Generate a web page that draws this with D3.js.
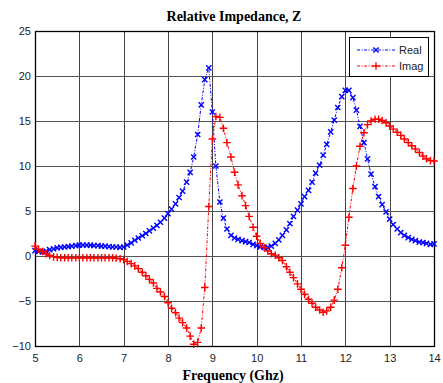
<!DOCTYPE html>
<html>
<head>
<meta charset="utf-8">
<script src="https://cdn.jsdelivr.net/npm/d3@7"></script>
<style>
  body { margin: 0; background: #fff; }
</style>
</head>
<body>
<svg id="chart" width="443" height="383"></svg>
<script>
// sample frequencies (GHz), 1/12 GHz apart
const freq = [
  5.00, 5.08, 5.17, 5.25, 5.33, 5.42, 5.50, 5.58, 5.67, 5.75, 5.83, 5.92,
  6.00, 6.08, 6.17, 6.25, 6.33, 6.42, 6.50, 6.58, 6.67, 6.75, 6.83, 6.92,
  7.00, 7.08, 7.17, 7.25, 7.33, 7.42, 7.50, 7.58, 7.67, 7.75, 7.83, 7.92,
  8.00, 8.08, 8.17, 8.25, 8.33, 8.42, 8.50, 8.58, 8.67, 8.75, 8.83, 8.92,
  9.00, 9.08, 9.17, 9.25, 9.33, 9.42, 9.50, 9.58, 9.67, 9.75, 9.83, 9.92,
  10.00, 10.08, 10.17, 10.25, 10.33, 10.42, 10.50, 10.58, 10.67, 10.75, 10.83, 10.92,
  11.00, 11.08, 11.17, 11.25, 11.33, 11.42, 11.50, 11.58, 11.67, 11.75, 11.83, 11.92,
  12.00, 12.08, 12.17, 12.25, 12.33, 12.42, 12.50, 12.58, 12.67, 12.75, 12.83, 12.92,
  13.00, 13.08, 13.17, 13.25, 13.33, 13.42, 13.50, 13.58, 13.67, 13.75, 13.83, 13.92,
  14.00
];

const realZ = [
  0.6, 0.5, 0.45, 0.55, 0.7, 0.8, 0.9, 0.95, 1.0, 1.05, 1.1, 1.15,
  1.2, 1.2, 1.2, 1.2, 1.15, 1.15, 1.1, 1.1, 1.05, 1.0, 1.0, 0.95,
  1.0, 1.2, 1.45, 1.75, 2.0, 2.25, 2.5, 2.8, 3.1, 3.4, 3.75, 4.2,
  4.7, 5.2, 5.8, 6.5, 7.2, 8.2, 9.3, 11.0, 13.5, 16.8, 19.6, 20.9,
  16.0, 10.0, 6.0, 4.2, 3.0, 2.3, 2.0, 1.85, 1.7, 1.6, 1.5, 1.3,
  1.15, 1.0, 0.95, 0.95, 1.1, 1.4, 1.8, 2.3, 2.9, 3.6, 4.4, 5.1,
  5.8, 6.6, 7.3, 8.2, 9.2, 10.1, 11.2, 12.4, 13.8, 15.1, 16.5, 17.7,
  18.4, 18.4, 17.6, 16.2, 14.4, 12.6, 10.8, 9.1, 7.7, 6.6, 5.7, 4.9,
  4.1, 3.5, 3.0, 2.6, 2.3, 2.05, 1.85, 1.7, 1.55, 1.5, 1.4, 1.3,
  1.35
];

const imagZ = [
  1.1, 0.75, 0.5, 0.25, 0.05, -0.1, -0.15, -0.2, -0.2, -0.2, -0.2, -0.2,
  -0.2, -0.2, -0.2, -0.2, -0.2, -0.2, -0.2, -0.2, -0.2, -0.2, -0.25, -0.3,
  -0.4, -0.6, -0.85, -1.1, -1.4, -1.8, -2.2, -2.6, -3.0, -3.6, -4.0, -4.5,
  -5.2, -5.8, -6.3, -6.9, -7.4, -8.0, -8.9, -9.8, -9.6, -8.0, -3.5, 5.5,
  13.0, 15.5, 15.4, 14.2, 12.6, 11.0, 9.3, 7.9, 6.7, 5.6, 4.4, 3.2,
  2.2, 1.4, 0.95, 0.55, 0.25, 0.1, -0.2, -0.5, -1.2, -1.8, -2.4, -3.1,
  -3.7, -4.25, -4.8, -5.25, -5.7, -6.0, -6.25, -6.1, -5.7, -4.9, -3.7, -1.3,
  1.2, 4.3, 7.5, 10.0, 12.2, 13.7, 14.6, 15.0, 15.2, 15.2, 15.05, 14.8,
  14.45, 14.1, 13.75, 13.4, 13.0, 12.6, 12.25, 11.9, 11.5, 11.1, 10.8, 10.6,
  10.55
];

const xTicks = [5, 6, 7, 8, 9, 10, 11, 12, 13, 14];
const yTicks = [-10, -5, 0, 5, 10, 15, 20, 25];
const seriesNames = ["Real", "Imag"];

const svg = d3.select("svg#chart");
const plotLeft = 35, plotRight = 434, plotTop = 31, plotBottom = 346;
const sansFont = "Arial, 'Liberation Sans', sans-serif";
const serifFont = "'Liberation Serif', 'Times New Roman', serif";

const xScale = d3.scaleLinear().domain([5, 14]).range([plotLeft, plotRight]);
const yScale = d3.scaleLinear().domain([-10, 25]).range([plotBottom, plotTop]);

// grid
const grid = svg.append("g");
grid.selectAll("line.vx")
  .data(xTicks)
  .enter()
  .append("line")
  .attr("x1", (d) => Math.round(xScale(d)) + 0.5)
  .attr("x2", (d) => Math.round(xScale(d)) + 0.5)
  .attr("y1", plotTop)
  .attr("y2", plotBottom)
  .attr("stroke", "#444")
  .attr("stroke-width", 1);
grid.selectAll("line.hy")
  .data(yTicks)
  .enter()
  .append("line")
  .attr("y1", (d) => Math.round(yScale(d)) + 0.5)
  .attr("y2", (d) => Math.round(yScale(d)) + 0.5)
  .attr("x1", plotLeft)
  .attr("x2", plotRight)
  .attr("stroke", "#555")
  .attr("stroke-width", 1);

// axes, labels only (grid does the ticks)
const xAxis = svg.append("g")
  .attr("transform", "translate(0," + plotBottom + ")")
  .call(d3.axisBottom(xScale).tickValues(xTicks).tickSize(0).tickPadding(8));
const yAxis = svg.append("g")
  .attr("transform", "translate(" + plotLeft + ",0)")
  .call(d3.axisLeft(yScale).tickValues(yTicks).tickSize(0).tickPadding(4));
[xAxis, yAxis].forEach((g) => {
  g.select(".domain").remove();
  g.selectAll("text")
    .style("font-size", "11px")
    .style("font-family", sansFont)
    .attr("fill", "#222");
});

svg.append("rect")
  .attr("x", plotLeft + 0.5)
  .attr("y", plotTop + 0.5)
  .attr("width", plotRight - plotLeft)
  .attr("height", plotBottom - plotTop)
  .attr("fill", "none")
  .attr("stroke", "#000")
  .attr("stroke-width", 1.3);

// lines
const line = d3.line()
  .x((d) => xScale(d[0]))
  .y((d) => yScale(d[1]));

const realPts = freq.map((f, i) => [f, realZ[i]]);
const imagPts = freq.map((f, i) => [f, imagZ[i]]);

function drawSeries(pts, color, marker) {
  svg.append("path")
    .attr("d", line(pts))
    .attr("fill", "none")
    .attr("stroke", color)
    .attr("stroke-width", 1)
    .attr("stroke-dasharray", "3,1.5,1,1.5");
  const g = svg.append("g");
  g.selectAll("path")
    .data(pts)
    .enter()
    .append("path")
    .attr("d", (d) => marker(xScale(d[0]), yScale(d[1])))
    .attr("stroke", color)
    .attr("stroke-width", 1.4)
    .attr("fill", "none");
}

function xMark(x, y) {
  const s = 2.6;
  return "M" + (x - s) + "," + (y - s) + "L" + (x + s) + "," + (y + s) +
    "M" + (x - s) + "," + (y + s) + "L" + (x + s) + "," + (y - s);
}
function plusMark(x, y) {
  const s = 3.8;
  return "M" + (x - s) + "," + y + "L" + (x + s) + "," + y +
    "M" + x + "," + (y - s) + "L" + x + "," + (y + s);
}

drawSeries(realPts, "#0000ff", xMark);
drawSeries(imagPts, "#ff0000", plusMark);

// title and label
svg.append("text")
  .attr("x", 234)
  .attr("y", 21)
  .attr("text-anchor", "middle")
  .style("font-family", serifFont)
  .style("font-weight", "bold")
  .style("font-size", "14px")
  .text("Relative Impedance, Z");

svg.append("text")
  .attr("x", 233)
  .attr("y", 380)
  .attr("text-anchor", "middle")
  .style("font-family", serifFont)
  .style("font-weight", "bold")
  .style("font-size", "14px")
  .text("Frequency (Ghz)");

// legend
const legend = svg.append("g");
legend.append("rect")
  .attr("x", 349.5)
  .attr("y", 37.5)
  .attr("width", 79)
  .attr("height", 39)
  .attr("fill", "#fff")
  .attr("stroke", "#000")
  .attr("stroke-width", 1);
const legendColors = ["#0000ff", "#ff0000"];
const legendMarks = [xMark, plusMark];
seriesNames.forEach((name, i) => {
  const y = 50 + i * 16;
  legend.append("line")
    .attr("x1", 357)
    .attr("x2", 395)
    .attr("y1", y)
    .attr("y2", y)
    .attr("stroke", legendColors[i])
    .attr("stroke-width", 1)
    .attr("stroke-dasharray", "3,1.5,1,1.5");
  legend.append("path")
    .attr("d", legendMarks[i](376, y))
    .attr("stroke", legendColors[i])
    .attr("stroke-width", 1.4)
    .attr("fill", "none");
  legend.append("text")
    .attr("x", 399)
    .attr("y", y + 4)
    .style("font-size", "11px")
    .style("font-family", sansFont)
    .attr("fill", "#222")
    .text(name);
});
</script>
</body>
</html>
